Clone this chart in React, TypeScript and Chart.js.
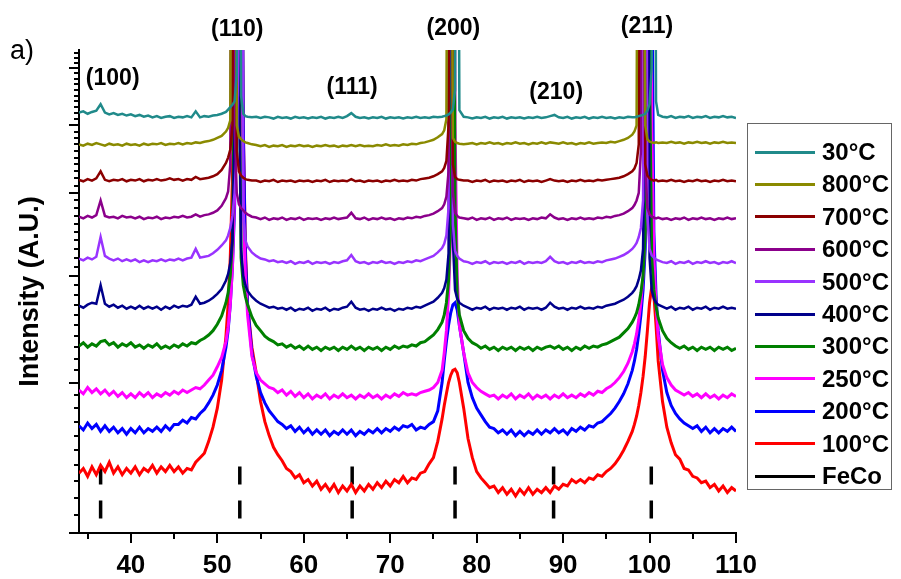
import React, { useEffect, useRef } from "react";
import { Chart, registerables } from "chart.js";

Chart.register(...registerables);

// 2θ (degrees) sampling shared by all patterns
const TWO_THETA = [
  34, 34.5, 35, 35.5, 36, 36.5, 37, 37.5, 38, 38.5, 39, 39.5, 40, 40.5, 41, 41.5, 42, 42.5, 43, 43.5, 44, 44.5, 45, 45.5, 46, 46.5, 47, 47.5, 48, 48.5, 49, 49.5, 50,
  50.5, 51, 51.25, 51.5, 51.75, 52, 52.25, 52.5, 52.75, 53, 53.25, 53.5, 54,
  54.5, 55, 55.5, 56, 56.5, 57, 57.5, 58, 58.5, 59, 59.5, 60, 60.5, 61, 61.5, 62, 62.5, 63, 63.5, 64, 64.5, 65, 65.5, 66, 66.5, 67, 67.5, 68, 68.5, 69, 69.5, 70, 70.5, 71, 71.5, 72, 72.5, 73, 73.5, 74, 74.5, 75, 75.5,
  76, 76.25, 76.5, 76.75, 77, 77.25, 77.5, 77.75, 78, 78.5,
  79, 79.5, 80, 80.5, 81, 81.5, 82, 82.5, 83, 83.5, 84, 84.5, 85, 85.5, 86, 86.5, 87, 87.5, 88, 88.5, 89, 89.5, 90, 90.5, 91, 91.5, 92, 92.5, 93, 93.5, 94, 94.5, 95, 95.5, 96, 96.5, 97, 97.5, 98,
  98.25, 98.5, 98.75, 99, 99.25, 99.5, 99.75, 100, 100.25, 100.5, 100.75, 101, 101.5,
  102, 102.5, 103, 103.5, 104, 104.5, 105, 105.5, 106, 106.5, 107, 107.5, 108, 108.5, 109, 109.5, 110,
];

const I_30C = [
  621, 623, 619, 622, 624, 635, 621, 618, 620, 617, 619, 616, 618, 615, 617, 614, 616, 613, 615, 612, 614, 615, 612, 614, 613, 615, 613, 623, 613, 615, 614, 616, 617,
  619, 622, 626, 630, 634, 640, 690, 3000, 650, 619, 615, 614, 613,
  614, 612, 614, 613, 611, 614, 612, 613, 611, 614, 612, 613, 611, 613, 612, 614, 611, 613, 612, 614, 612, 615, 620, 614, 612, 613, 611, 613, 612, 614, 611, 613, 612, 613, 611, 613, 612, 614, 612, 613, 612, 614, 613,
  614, 615, 616, 618, 621, 626, 660, 3000, 625, 614,
  613, 611, 613, 612, 614, 611, 613, 612, 614, 611, 613, 612, 613, 611, 613, 612, 614, 612, 613, 615, 617, 613, 612, 614, 611, 613, 612, 614, 611, 613, 612, 614, 612, 613, 611, 613, 612, 614, 613,
  613, 614, 615, 616, 617, 619, 624, 635, 700, 3000, 640, 617, 614,
  613, 615, 612, 614, 613, 615, 612, 614, 613, 615, 612, 614, 613, 615, 613, 614, 612,
];

const I_800C = [
  570, 568, 571, 569, 572, 570, 568, 571, 569, 570, 568, 571, 569, 570, 568, 571, 569, 571, 570, 572, 569, 571, 570, 572, 570, 572, 571, 573, 572, 574, 575, 577, 580,
  583, 590, 596, 608, 3000, 2000, 600, 582, 578, 575, 573, 572, 570,
  569, 567, 569, 566, 568, 567, 569, 566, 568, 567, 569, 567, 568, 566, 568, 567, 569, 567, 568, 566, 568, 567, 569, 567, 569, 567, 568, 567, 569, 568, 570, 568, 569, 568, 570, 569, 571, 570, 572, 573, 575, 577, 581,
  586, 592, 610, 3000, 2000, 580, 574, 572, 571, 570,
  571, 572, 570, 572, 571, 573, 571, 572, 570, 572, 571, 573, 571, 572, 570, 572, 571, 573, 571, 573, 572, 571, 573, 571, 572, 570, 572, 571, 573, 571, 572, 573, 572, 574, 573, 575, 577, 580, 585,
  590, 600, 3000, 2500, 2000, 600, 578, 574, 573, 572, 573, 572, 573,
  572, 574, 572, 573, 571, 573, 572, 574, 572, 573, 571, 573, 572, 574, 572, 573, 572,
];

const I_700C = [
  518, 516, 519, 517, 520, 530, 518, 516, 518, 517, 519, 516, 518, 517, 519, 516, 518, 517, 519, 517, 518, 520, 518, 519, 517, 519, 518, 522, 519, 520, 521, 523, 526,
  532, 542, 550, 562, 600, 3000, 560, 530, 524, 521, 519, 518, 517,
  517, 515, 517, 516, 518, 515, 517, 516, 517, 515, 517, 516, 517, 515, 517, 516, 518, 515, 517, 516, 517, 516, 519, 516, 517, 515, 517, 516, 517, 515, 517, 516, 518, 516, 517, 516, 518, 517, 519, 520, 521, 523, 526,
  530, 535, 545, 600, 3000, 540, 522, 519, 518, 517,
  517, 515, 517, 516, 518, 515, 517, 516, 517, 515, 517, 516, 518, 515, 517, 516, 517, 515, 517, 519, 517, 516, 517, 515, 517, 516, 518, 516, 517, 516, 518, 517, 518, 519, 520, 521, 523, 526, 530,
  534, 542, 570, 3000, 2000, 540, 524, 520, 518, 517, 518, 516, 517,
  516, 518, 516, 517, 515, 517, 516, 518, 516, 517, 515, 517, 516, 518, 516, 517, 516,
];

const I_600C = [
  469, 467, 470, 468, 471, 490, 470, 468, 469, 467, 470, 468, 469, 467, 469, 466, 468, 467, 469, 466, 468, 467, 469, 468, 470, 468, 469, 472, 469, 471, 472, 474, 477,
  483, 493, 502, 540, 3000, 600, 500, 485, 480, 477, 474, 472, 469,
  468, 466, 468, 465, 467, 466, 468, 465, 467, 466, 468, 465, 467, 466, 467, 465, 467, 466, 468, 466, 467, 468, 474, 467, 466, 468, 465, 467, 466, 468, 466, 467, 465, 467, 466, 468, 467, 469, 468, 470, 471, 473, 476,
  480, 485, 495, 530, 3000, 500, 474, 470, 468, 467,
  466, 468, 465, 467, 466, 468, 465, 467, 466, 468, 465, 467, 466, 467, 465, 467, 466, 468, 467, 472, 468, 466, 467, 465, 467, 466, 468, 466, 467, 466, 468, 467, 469, 468, 470, 471, 473, 476, 480,
  484, 490, 500, 560, 3000, 540, 480, 472, 469, 468, 467, 468, 466,
  467, 465, 467, 466, 468, 465, 467, 466, 468, 466, 467, 465, 467, 466, 468, 466, 467,
];

const I_500C = [
  419, 417, 420, 418, 421, 444, 422, 419, 417, 419, 416, 418, 416, 418, 415, 417, 415, 417, 416, 418, 416, 418, 417, 419, 417, 419, 420, 430, 420, 421, 422, 425, 429,
  434, 440, 446, 455, 470, 500, 560, 800, 3000, 470, 440, 433, 426,
  422, 419, 418, 416, 417, 415, 416, 414, 416, 413, 415, 414, 416, 413, 415, 414, 415, 413, 415, 414, 416, 417, 423, 416, 414, 415, 413, 415, 414, 416, 414, 415, 413, 415, 414, 416, 415, 417, 416, 418, 420, 422, 426,
  431, 436, 446, 480, 3000, 460, 428, 422, 419, 416,
  415, 413, 415, 414, 416, 413, 415, 414, 415, 413, 415, 414, 416, 413, 415, 414, 415, 414, 416, 421, 416, 414, 415, 413, 415, 414, 416, 414, 415, 414, 416, 415, 417, 418, 419, 421, 423, 426, 430,
  433, 437, 444, 455, 490, 3000, 470, 430, 423, 420, 418, 417, 415,
  414, 416, 413, 415, 414, 416, 413, 415, 414, 416, 414, 415, 413, 415, 414, 416, 414,
];

const I_400C = [
  369, 367, 370, 372, 371, 390, 371, 368, 370, 367, 369, 366, 368, 366, 369, 366, 368, 366, 368, 365, 368, 366, 369, 367, 369, 368, 370, 378, 371, 372, 374, 377, 381,
  386, 395, 402, 414, 440, 600, 3000, 700, 430, 400, 390, 384, 378,
  374, 371, 369, 367, 368, 366, 367, 365, 367, 364, 366, 365, 367, 364, 366, 365, 367, 364, 366, 365, 367, 368, 373, 367, 365, 366, 364, 366, 365, 367, 365, 366, 364, 366, 365, 367, 366, 368, 367, 369, 371, 373, 377,
  382, 387, 396, 425, 3000, 440, 385, 376, 372, 369,
  367, 365, 367, 366, 368, 365, 367, 366, 367, 365, 367, 366, 368, 365, 367, 366, 367, 365, 367, 372, 368, 366, 367, 365, 367, 366, 368, 366, 367, 366, 368, 367, 369, 370, 371, 373, 375, 378, 382,
  385, 389, 396, 406, 430, 700, 3000, 420, 385, 376, 372, 370, 368,
  366, 368, 365, 367, 366, 368, 365, 367, 366, 368, 365, 367, 366, 368, 366, 367, 366,
];

const I_300C = [
  331, 334, 330, 333, 331, 335, 336, 332, 334, 330, 333, 331, 334, 330, 332, 329, 332, 330, 333, 329, 331, 329, 332, 330, 333, 331, 334, 333, 336, 338, 341, 345, 351,
  359, 372, 382, 400, 440, 700, 3000, 800, 420, 390, 378, 370, 358,
  350, 345, 340, 337, 335, 332, 333, 330, 332, 329, 331, 328, 331, 328, 330, 327, 330, 328, 330, 327, 330, 328, 331, 328, 330, 327, 330, 328, 330, 327, 330, 328, 331, 329, 331, 330, 332, 331, 334, 335, 338, 341, 346,
  353, 360, 372, 395, 470, 3000, 480, 380, 360, 345,
  338, 334, 332, 329, 331, 328, 330, 327, 330, 328, 330, 327, 330, 328, 330, 327, 330, 328, 330, 331, 329, 331, 328, 330, 327, 330, 328, 331, 329, 331, 330, 332, 333, 335, 337, 339, 343, 347, 353,
  357, 362, 370, 382, 400, 450, 3000, 700, 420, 385, 368, 357, 345,
  338, 334, 331, 329, 331, 328, 330, 327, 330, 328, 330, 327, 330, 328, 330, 327, 329,
];

const I_250C = [
  294, 291, 296, 292, 295, 291, 294, 290, 293, 289, 292, 288, 291, 288, 292, 289, 292, 288, 291, 289, 292, 290, 293, 291, 294, 292, 294, 296, 295, 298, 302, 306, 313,
  321, 335, 348, 370, 410, 500, 800, 3000, 900, 480, 400, 360, 322,
  308, 302, 299, 296, 295, 292, 294, 290, 293, 289, 292, 288, 291, 287, 290, 288, 291, 287, 290, 288, 291, 288, 290, 287, 290, 288, 291, 288, 290, 287, 290, 288, 291, 289, 292, 290, 291, 290, 292, 293, 294, 296, 300,
  310, 325, 345, 380, 450, 3000, 600, 400, 350, 325,
  308, 300, 296, 293, 291, 289, 290, 287, 290, 288, 291, 287, 290, 288, 291, 287, 290, 288, 290, 287, 290, 288, 291, 288, 290, 288, 291, 289, 292, 290, 293, 292, 295, 297, 300, 304, 309, 316, 326,
  333, 342, 355, 372, 400, 450, 700, 3000, 600, 420, 370, 340, 315,
  304, 298, 294, 292, 290, 292, 289, 291, 288, 291, 288, 290, 287, 290, 288, 291, 289,
];

const I_200C = [
  267, 264, 269, 265, 268, 263, 267, 263, 266, 262, 265, 261, 265, 262, 266, 262, 265, 263, 266, 263, 267, 264, 268, 268, 271, 269, 273, 272, 276, 279, 284, 290, 298,
  310, 330, 345, 370, 410, 480, 700, 3000, 2000, 600, 420, 370, 325,
  305, 292, 284, 278, 274, 270, 268, 265, 267, 263, 266, 262, 265, 261, 264, 261, 264, 260, 263, 261, 264, 261, 264, 260, 263, 261, 264, 262, 265, 262, 265, 263, 266, 264, 267, 266, 268, 264, 266, 265, 268, 270, 278,
  300, 318, 335, 350, 362, 370, 372, 365, 350, 325,
  300, 288, 280, 275, 270, 266, 265, 262, 264, 261, 264, 260, 263, 260, 263, 261, 264, 261, 264, 262, 265, 262, 264, 261, 265, 263, 266, 264, 267, 266, 269, 270, 273, 276, 280, 285, 291, 299, 310,
  318, 328, 342, 360, 385, 430, 550, 3000, 1000, 450, 380, 345, 310,
  292, 282, 276, 272, 269, 267, 265, 267, 263, 266, 262, 265, 262, 265, 263, 266, 263,
];

const I_100C = [
  235, 238, 233, 239, 234, 240, 236, 242, 235, 239, 234, 238, 235, 239, 234, 238, 236, 240, 235, 239, 236, 240, 236, 239, 235, 238, 237, 242, 245, 248, 256, 266, 280,
  302, 340, 370, 420, 520, 800, 3000, 3000, 1500, 600, 430, 370, 330,
  308, 285, 270, 260, 252, 247, 243, 238, 236, 232, 234, 229, 231, 227, 230, 225, 228, 224, 228, 223, 227, 224, 228, 223, 227, 224, 228, 225, 229, 226, 230, 227, 231, 229, 233, 229, 232, 231, 235, 236, 241, 245, 256,
  272, 282, 291, 300, 306, 310, 311, 308, 300, 280,
  258, 245, 236, 232, 229, 226, 227, 223, 226, 222, 225, 221, 225, 222, 226, 222, 225, 223, 226, 223, 227, 225, 228, 227, 231, 229, 231, 229, 232, 231, 234, 233, 236, 238, 241, 245, 250, 256, 263,
  268, 274, 282, 292, 305, 322, 345, 372, 388, 380, 350, 318, 285,
  266, 255, 247, 244, 238, 237, 233, 232, 229, 230, 226, 228, 224, 227, 223, 226, 224,
];

const SERIES_LABELS = ["30°C", "800°C", "700°C", "600°C", "500°C", "400°C", "300°C", "250°C", "200°C", "100°C"];
const SERIES_VALUES = [I_30C, I_800C, I_700C, I_600C, I_500C, I_400C, I_300C, I_250C, I_200C, I_100C];
const SERIES_COLORS = ["#208a8a", "#8a8a00", "#8b0000", "#8b008b", "#9933ff", "#00008b", "#008000", "#ff00ff", "#0000ff", "#ff0000"];

// FeCo reference reflections (2θ) and the short marker span (intensity)
const FECO_LABEL = "FeCo";
const FECO_POSITIONS = [36.5, 52.6, 65.6, 77.5, 88.9, 100.2];
const FECO_SPAN = [208, 240];

// Miller index labels and their 2θ anchors
const PEAK_LABELS = ["(100)", "(110)", "(111)", "(200)", "(210)", "(211)"];
const PEAK_LABEL_X = [37.9, 52.3, 65.6, 77.3, 89.2, 99.7];

const X_TICKS = [40, 50, 60, 70, 80, 90, 100, 110];
const X_MINOR_TICKS = [35, 45, 55, 65, 75, 85, 95, 105];
const Y_MAJOR_TICKS = [200, 300, 400, 500, 600, 700];

// ---- layout / style (not data) ----
const W = 901;
const H = 579;
const FONT = "'Liberation Sans', Arial, Helvetica, sans-serif";
const PEAK_LABEL_Y = [79, 30, 88, 29, 93, 27];

const decorPlugin = {
  id: "decor",
  afterDraw(chart: any) {
    const ctx = chart.ctx;
    const xs = chart.scales.x;
    const ys = chart.scales.y;
    const area = chart.chartArea;
    ctx.save();
    ctx.strokeStyle = "#000";
    ctx.lineWidth = 2;
    ctx.lineCap = "butt";
    const seg = (x1: number, y1: number, x2: number, y2: number) => {
      ctx.beginPath();
      ctx.moveTo(x1, y1);
      ctx.lineTo(x2, y2);
      ctx.stroke();
    };
    X_TICKS.forEach((v) => {
      const p = Math.round(xs.getPixelForValue(v));
      seg(p, area.bottom, p, area.bottom + 10);
    });
    X_MINOR_TICKS.forEach((v) => {
      const p = Math.round(xs.getPixelForValue(v));
      seg(p, area.bottom, p, area.bottom + 6);
    });
    for (let v = 200; v <= 735; v += 10) {
      const major = Y_MAJOR_TICKS.includes(v);
      const p = Math.round(ys.getPixelForValue(v));
      seg(area.left - (major ? 10 : 5), p, area.left, p);
    }
    ctx.fillStyle = "#000";
    ctx.font = `bold 23px ${FONT}`;
    ctx.textAlign = "center";
    ctx.textBaseline = "middle";
    PEAK_LABELS.forEach((t, i) => {
      ctx.fillText(t, xs.getPixelForValue(PEAK_LABEL_X[i]), PEAK_LABEL_Y[i]);
    });
    ctx.font = `27px ${FONT}`;
    ctx.textAlign = "left";
    ctx.textBaseline = "alphabetic";
    ctx.fillText("a)", 10, 59);
    ctx.restore();
  },
};

export default function App() {
  const canvasRef = useRef<HTMLCanvasElement | null>(null);

  useEffect(() => {
    if (!canvasRef.current) return;
    const datasets: any[] = SERIES_VALUES.map((vals, i) => ({
      label: SERIES_LABELS[i],
      data: TWO_THETA.map((x, j) => ({ x, y: vals[j] })),
      borderColor: SERIES_COLORS[i],
      backgroundColor: SERIES_COLORS[i],
      borderWidth: i >= 6 ? 3 : 2.5,
      pointRadius: 0,
      tension: 0,
      fill: false,
      clip: 0,
    }));
    datasets.push({
      label: FECO_LABEL,
      data: FECO_POSITIONS.flatMap((x) => [
        { x, y: FECO_SPAN[0] },
        { x, y: FECO_SPAN[1] },
        { x, y: null },
      ]),
      borderColor: "#000",
      backgroundColor: "#000",
      borderWidth: 3.5,
      borderDash: [18, 16],
      borderCapStyle: "butt",
      pointRadius: 0,
      spanGaps: false,
      fill: false,
      clip: 0,
    });

    const chart = new Chart(canvasRef.current, {
      type: "line",
      data: { datasets },
      options: {
        responsive: false,
        animation: false,
        events: [],
        layout: { padding: { top: 50, right: W - 736, left: 0, bottom: 0 } },
        plugins: { legend: { display: false }, tooltip: { enabled: false } },
        scales: {
          x: {
            type: "linear",
            min: 34,
            max: 110,
            afterBuildTicks: (s: any) => {
              s.ticks = X_TICKS.map((v) => ({ value: v }));
            },
            afterFit: (s: any) => {
              s.height = H - 533;
            },
            grid: { display: false, drawTicks: false },
            border: { display: true, color: "#000", width: 2 },
            ticks: {
              color: "#000",
              padding: 17,
              font: { family: FONT, size: 26, weight: "bold", lineHeight: 1.2 },
              callback: (v: any) => String(v),
            },
          },
          y: {
            type: "logarithmic",
            min: 200,
            max: 735,
            afterFit: (s: any) => {
              s.width = 79;
            },
            grid: { display: false, drawTicks: false },
            border: { display: true, color: "#000", width: 2 },
            ticks: { display: false },
            title: {
              display: true,
              text: "Intensity (A.U.)",
              color: "#000",
              font: { family: FONT, size: 27, weight: "bold", lineHeight: 1.2 },
              padding: { top: 14, bottom: 0 },
            },
          },
        },
      } as any,
      plugins: [decorPlugin],
    });
    return () => chart.destroy();
  }, []);

  const legendLabels = [...SERIES_LABELS, FECO_LABEL];
  const legendColors = [...SERIES_COLORS, "#000"];

  return (
    <div style={{ position: "fixed", left: 0, top: 0, width: W, height: H, background: "#fff" }}>
      <canvas ref={canvasRef} width={W} height={H} style={{ position: "absolute", left: 0, top: 0 }} />
      <div
        style={{
          position: "absolute",
          left: 747,
          top: 123,
          width: 145,
          height: 367,
          border: "1px solid #666",
          boxSizing: "border-box",
        }}
      />
      {legendLabels.map((lab, i) => (
        <div
          key={lab}
          style={{
            position: "absolute",
            left: 755,
            top: 152 + i * 32.4 - 16,
            height: 32,
            display: "flex",
            alignItems: "center",
            fontFamily: FONT,
            fontWeight: "bold",
            fontSize: 24,
            color: "#000",
            whiteSpace: "nowrap",
          }}
        >
          <span style={{ display: "inline-block", width: 60, height: 3, background: legendColors[i], marginRight: 7 }} />
          <span>{lab}</span>
        </div>
      ))}
    </div>
  );
}
